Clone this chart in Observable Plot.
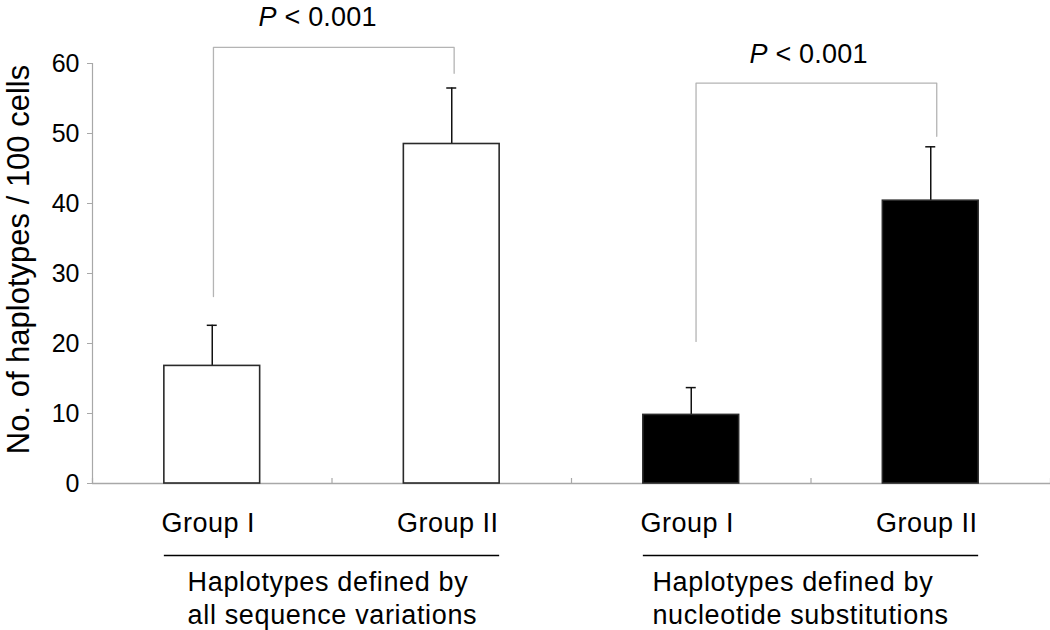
<!DOCTYPE html>
<html>
<head>
<meta charset="utf-8">
<script src="https://cdn.jsdelivr.net/npm/d3@7"></script>
<script src="https://cdn.jsdelivr.net/npm/@observablehq/plot@0.6"></script>
<style>
  html, body { margin: 0; padding: 0; background: #fff; }
  #chart svg { display: block; font-family: "Liberation Sans", Arial, Helvetica, sans-serif; }
</style>
</head>
<body>
<div id="chart"></div>
<script>
// ---- data ----
const categories = ["Group I", "Group II", "Group I", "Group II"];
const groupLabels = ["Haplotypes defined by\nall sequence variations", "Haplotypes defined by\nnucleotide substitutions"];
const means = [16.8, 48.5, 9.8, 40.4];
const upper = [22.6, 56.5, 13.7, 48.1];
const barFills = ["white", "white", "black", "black"];
const yTicks = [0, 10, 20, 30, 40, 50, 60];
const yTitle = "No. of haplotypes / 100 cells";
// significance brackets: [left bar, right bar], leg bottoms and top level (y units)
const pText = ["P < 0.001", "P < 0.001"];
const bracketBars = [[0, 1], [2, 3]];
const bracketLeftY = [26.7, 20.3];
const bracketTopY = [62.3, 57.2];
const bracketRightY = [58.6, 49.6];
const pLabelY = [68.1, 62.8];

// ---- build ----
const bars = categories.map((c, i) => ({i, c, mean: means[i], up: upper[i], fill: barFills[i]}));
const step = (1050 - 92) / 4;
const cap = 5 / step;
const legOff = [[0.005, 0.01], [0.02, 0.025]];
const bracketPts = [];
bracketBars.forEach(([a, b], k) => {
  const xl = a + 0.5 + legOff[k][0], xr = b + 0.5 + legOff[k][1];
  bracketPts.push({k, x: xl, y: bracketLeftY[k]}, {k, x: xl, y: bracketTopY[k]},
                  {k, x: xr, y: bracketTopY[k]}, {k, x: xr, y: bracketRightY[k]});
});
const pLabels = pText.map((t, k) => ({t, x: (bracketBars[k][0] + bracketBars[k][1]) / 2 + 0.5 + [-0.06, -0.01][k], y: pLabelY[k]}));
const groups = groupLabels.map((t, g) => ({t, x1: g * 2 + 0.3, x2: g * 2 + 1.7, tx: g * 2 + [0.397, 0.338][g]}));

const axisGray = "#a8a8a8";
const chart = Plot.plot({
  width: 1050,
  height: 630,
  marginTop: 63,
  marginBottom: 147,
  marginLeft: 92,
  marginRight: 0,
  style: {background: "white", fontFamily: "'Liberation Sans', Arial, Helvetica, sans-serif"},
  x: {domain: [0, 4], axis: null},
  y: {domain: [0, 60], axis: null},
  marks: [
    // axes
    Plot.ruleX([0], {y1: 0, y2: 60, stroke: axisGray, strokeWidth: 1.2}),
    Plot.ruleY([0], {stroke: axisGray, strokeWidth: 1.5}),
    Plot.tickX([0, 1, 2, 3, 4], {x: d => d, insetTop: 415, stroke: axisGray, strokeWidth: 1.2}),
    Plot.axisY({ticks: yTicks, tickSize: 5, tickPadding: 8, fontSize: 25, stroke: axisGray, fill: "black", tickFormat: d => String(d)}),
    Plot.text([yTitle], {frameAnchor: "left", rotate: -90, textAnchor: "middle", lineAnchor: "top", dx: -86, dy: -14, fontSize: 31, fill: "black"}),
    // brackets
    Plot.line(bracketPts, {x: "x", y: "y", z: "k", stroke: "#b4b4b4", strokeWidth: 1.3}),
    Plot.text(pLabels, {x: "x", y: "y", text: "t", lineAnchor: "top", fontSize: 27, fill: "black", className: "plabel"}),
    // error bars
    Plot.ruleX(bars, {x: d => d.i + 0.5, y1: "mean", y2: "up", stroke: "#111", strokeWidth: 1.5}),
    Plot.ruleY(bars, {y: "up", x1: d => d.i + 0.5 - cap, x2: d => d.i + 0.5 + cap, stroke: "#111", strokeWidth: 1.5}),
    // bars
    Plot.rectY(bars, {x1: d => d.i + 0.3, x2: d => d.i + 0.7, y1: 0, y2: "mean", fill: "fill", stroke: "#2a2a2a", strokeWidth: 1.6}),
    // category labels
    Plot.text(bars, {x: d => d.i + 0.5, y: 0, text: "c", dx: -4, dy: 29.5, lineAnchor: "top", fontSize: 27, fill: "black", className: "catlabel"}),
    // group underline and labels
    Plot.ruleY(groups, {y: 0, x1: "x1", x2: "x2", dy: 72, stroke: "black", strokeWidth: 1.3}),
    Plot.text(groups, {x: "tx", y: 0, text: "t", dy: 84.5, lineAnchor: "top", textAnchor: "start", lineHeight: 1.22, fontSize: 27, fill: "black", className: "grplabel"})
  ]
});
// letter spacing tweaks
d3.select(chart).selectAll("g.catlabel").style("letter-spacing", "0.5px");
d3.select(chart).selectAll("g.grplabel").style("letter-spacing", "0.65px");
d3.select(chart).selectAll("g.plabel").style("letter-spacing", "0.2px");
// italic P in significance labels
d3.select(chart).selectAll("text").each(function () {
  if (this.textContent === "P < 0.001") {
    const el = d3.select(this);
    el.text(null);
    el.append("tspan").attr("font-style", "italic").text("P");
    el.append("tspan").text(" < 0.001");
  }
});
document.getElementById("chart").appendChild(chart);
</script>
</body>
</html>
